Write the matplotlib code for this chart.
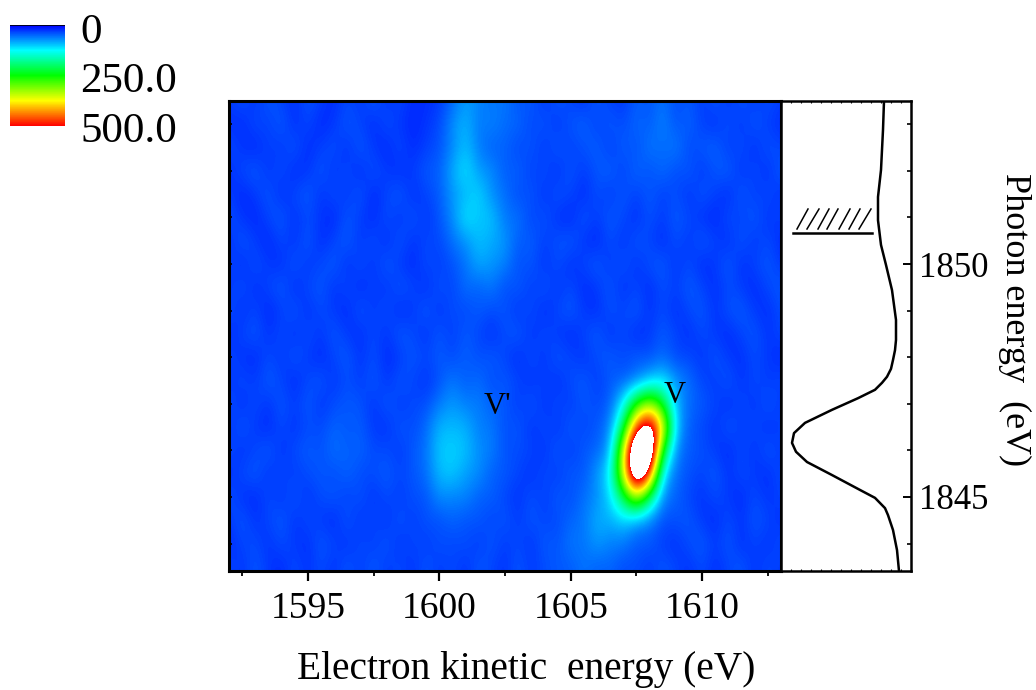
import numpy as np
import matplotlib
matplotlib.use("Agg")
import matplotlib.pyplot as plt
from matplotlib.colors import LinearSegmentedColormap
from matplotlib.ticker import MultipleLocator, NullFormatter

plt.rcParams['font.family'] = ['Liberation Serif', 'DejaVu Serif']

W, H = 1036, 690

kinetic = np.arange(43) * 0.5 + 1592      # 1592 .. 1613
photon = 1853.5 - np.arange(21) * 0.5     # 1853.5 .. 1843.5

counts = [
    [28,40,24,44,33,22,42,30,20,38,26,46,24,36,20,22,28,50,78,66,56,60,40,46,26,44,34,24,46,32,26,48,40,58,36,46,28,44,26,42,28,40,30],
    [24,20,38,30,46,22,36,18,28,44,34,20,40,26,18,26,36,70,92,58,66,52,52,34,44,26,42,50,30,46,36,52,44,66,40,50,32,24,42,26,44,30,22],
    [38,26,18,34,26,44,20,32,40,22,46,28,18,38,20,32,40,66,96,62,46,50,34,44,26,46,30,40,48,28,48,38,60,50,62,34,44,50,28,40,22,42,34],
    [22,36,46,24,40,20,26,44,24,38,20,42,28,22,30,44,46,84,115,76,70,44,50,30,40,22,44,28,42,50,30,52,38,54,36,46,26,42,48,24,38,22,46],
    [30,18,28,44,20,36,46,24,40,26,44,18,34,46,22,34,44,74,88,108,68,56,36,44,24,42,34,20,40,26,46,30,46,30,40,24,44,32,20,46,28,38,24],
    [40,26,18,34,46,22,38,26,18,44,30,20,40,24,44,24,42,68,118,96,98,56,58,32,42,24,18,44,28,46,36,22,42,28,46,36,24,18,40,30,46,24,34],
    [22,44,30,18,36,24,46,20,34,46,26,40,20,44,24,36,34,56,72,96,84,76,44,48,30,40,46,26,18,40,24,44,34,20,40,26,46,32,22,44,26,38,20],
    [36,20,40,28,22,44,26,36,46,22,40,24,46,28,20,38,30,40,56,84,74,64,38,44,24,40,22,34,46,26,44,24,40,46,24,38,20,28,46,22,34,44,28],
    [26,40,22,34,46,20,36,44,24,38,20,34,24,44,34,22,42,32,56,46,60,36,46,28,44,24,38,20,28,44,22,36,20,40,30,46,34,22,38,30,20,36,44],
    [40,22,36,18,30,44,22,38,28,20,44,26,40,20,28,46,24,40,34,46,36,44,24,40,20,36,46,28,22,40,34,46,24,38,22,36,44,24,40,46,28,22,38],
    [20,34,44,24,38,22,40,26,44,28,22,38,24,46,36,24,44,28,46,34,22,38,46,24,38,28,20,34,46,24,38,20,28,46,34,22,38,28,20,34,44,24,36],
    [36,24,20,38,26,44,28,20,34,46,24,40,20,28,44,34,46,36,48,38,46,34,20,40,24,44,34,24,38,46,34,46,38,52,34,36,24,44,28,22,38,28,20],
    [24,38,28,46,34,20,36,44,24,40,28,46,24,44,34,24,40,60,44,54,36,44,34,24,36,22,38,46,28,44,46,56,92,112,72,54,34,28,44,24,38,28,36],
    [40,22,38,24,44,28,46,24,38,44,42,24,46,28,36,38,60,76,62,62,48,44,28,44,24,38,28,44,36,46,118,258,330,240,90,52,44,34,22,38,24,44,28],
    [24,44,28,20,38,24,38,36,50,42,46,28,24,44,36,52,90,92,88,62,60,38,44,24,38,24,46,34,42,64,205,480,575,400,98,44,36,24,44,28,38,22,34],
    [38,24,34,46,24,38,46,38,56,46,50,36,38,28,44,56,100,104,96,70,62,40,38,34,24,46,28,44,48,80,350,680,660,240,66,44,40,30,20,38,24,44,28],
    [22,36,46,24,38,28,38,44,36,50,36,38,46,34,42,54,92,100,78,70,46,44,34,24,38,28,46,40,76,120,360,650,500,112,52,40,32,46,24,38,28,22,38],
    [40,24,20,38,24,44,24,38,44,30,42,24,38,28,40,40,70,64,66,46,48,34,24,40,28,46,36,56,68,106,212,350,205,66,48,34,24,38,28,20,38,24,34],
    [28,44,24,34,46,24,38,28,20,44,24,38,24,44,28,42,38,50,40,44,32,44,28,44,34,36,50,58,88,86,102,76,60,38,40,44,28,20,38,24,44,34,24],
    [20,34,38,24,38,28,22,44,34,24,38,28,44,24,38,28,40,34,40,28,44,28,38,24,46,40,60,56,76,62,60,42,44,30,24,38,46,28,44,22,34,24,38],
    [36,24,44,28,20,38,24,38,24,44,28,46,28,38,24,44,28,38,24,44,34,24,44,28,38,44,44,58,46,50,36,40,28,44,34,24,38,22,34,44,24,38,28],
]

# integrated yield for the side panel
side_energy = [1853.50, 1852.88, 1852.02, 1851.44, 1850.94, 1850.41, 1849.98, 1849.44, 1848.80,
               1848.37, 1848.15, 1847.94, 1847.75, 1847.58, 1847.45, 1847.30, 1847.12, 1846.87,
               1846.59, 1846.37, 1846.16, 1845.97, 1845.75, 1845.47, 1845.15, 1844.98, 1844.76,
               1844.61, 1844.29, 1843.86, 1843.41]
side_yield = [27, 28, 30, 33, 33, 30, 25, 19, 15, 15, 16, 18, 20, 24, 29, 36, 53, 79, 106, 117,
              119, 115, 104, 79, 51, 36, 26, 23, 18, 14, 12]

cbar_ticks = ['0', '250.0', '500.0']


def box(x0, y0, x1, y1):
    # pixel box, y from the top
    return [x0 / W, 1 - y1 / H, (x1 - x0) / W, (y1 - y0) / H]


fig = plt.figure(figsize=(W / 100, H / 100), dpi=100)
ax = fig.add_axes(box(229, 101, 781, 571))
side = fig.add_axes(box(781, 101, 911, 571))
cax = fig.add_axes(box(10, 25, 65, 126))

cmap = LinearSegmentedColormap.from_list('spec', ['#0000ff', '#00ffff', '#00ff00', '#ffff00', '#ff0000'], N=256)
cmap.set_over('white')

extent = [kinetic[0] - 0.25, kinetic[-1] + 0.25, photon[-1] - 0.25, photon[0] + 0.25]
im = ax.imshow(np.array(counts), extent=extent, aspect='auto', cmap=cmap, vmin=0, vmax=500,
               interpolation='bicubic', interpolation_stage='data')
ax.set_xlim(1592, 1613)
ax.set_ylim(1843.41, 1853.5)
ax.xaxis.set_major_locator(MultipleLocator(5))
ax.xaxis.set_minor_locator(MultipleLocator(2.5))
ax.yaxis.set_major_locator(MultipleLocator(5))
ax.yaxis.set_minor_locator(MultipleLocator(1))
ax.yaxis.set_major_formatter(NullFormatter())
ax.tick_params(axis='x', which='major', direction='out', length=7, width=1.6, labelsize=27, pad=8)
ax.tick_params(axis='x', which='minor', direction='out', length=3.5, width=1.3)
ax.tick_params(axis='y', which='both', direction='in', length=2.5, width=1.2)
ax.set_xlabel('Electron kinetic  energy (eV)', fontsize=28.4, va='center')
ax.xaxis.set_label_coords(0.539, -0.21)
for s in ax.spines.values():
    s.set_linewidth(2.2)

ax.text(1601.7, 1846.95, "V'", fontsize=22, ha='left', va='center')
ax.text(1608.55, 1847.17, 'V', fontsize=22, ha='left', va='center')

side.plot(side_yield, side_energy, color='k', lw=1.8)
side.set_xlim(130, 0)
side.set_ylim(1843.41, 1853.5)
side.xaxis.set_major_locator(MultipleLocator(10))
side.xaxis.set_major_formatter(NullFormatter())
side.yaxis.tick_right()
side.yaxis.set_major_locator(MultipleLocator(5))
side.yaxis.set_minor_locator(MultipleLocator(1))
side.tick_params(axis='x', which='major', direction='in', length=1.5, width=0.8, top=True, bottom=True)
side.tick_params(axis='y', which='major', direction='in', length=6, width=1.4, labelsize=25, pad=6)
side.tick_params(axis='y', which='minor', direction='in', length=3, width=1.2)
side.yaxis.set_label_position('right')
side.set_ylabel('Photon energy  (eV)', fontsize=26, rotation=270, ha='center', va='center')
side.yaxis.set_label_coords(1.8, 0.534)
for s in side.spines.values():
    s.set_linewidth(1.8)

# hatched threshold marker, drawn in figure fraction
fig.add_artist(plt.Line2D([793 / W, 872 / W], [1 - 233 / H, 1 - 233 / H], color='k', lw=1.8))
for x0, x1 in zip([797, 807, 818, 827, 839, 849, 859], [808, 819, 829, 838, 850, 860, 871]):
    fig.add_artist(plt.Line2D([x0 / W, x1 / W], [1 - 229 / H, 1 - 209 / H], color='k', lw=1.1))

cb = fig.colorbar(im, cax=cax, ticks=[])
cb.outline.set_visible(False)
cax.invert_yaxis()
cax.axhline(0, color='k', lw=1.2)
for label, y in zip(cbar_ticks, [33, 82, 132]):
    fig.text(80 / W, 1 - y / H, label, fontsize=31, ha='left', va='center')

fig.savefig('out.png', dpi=100)
